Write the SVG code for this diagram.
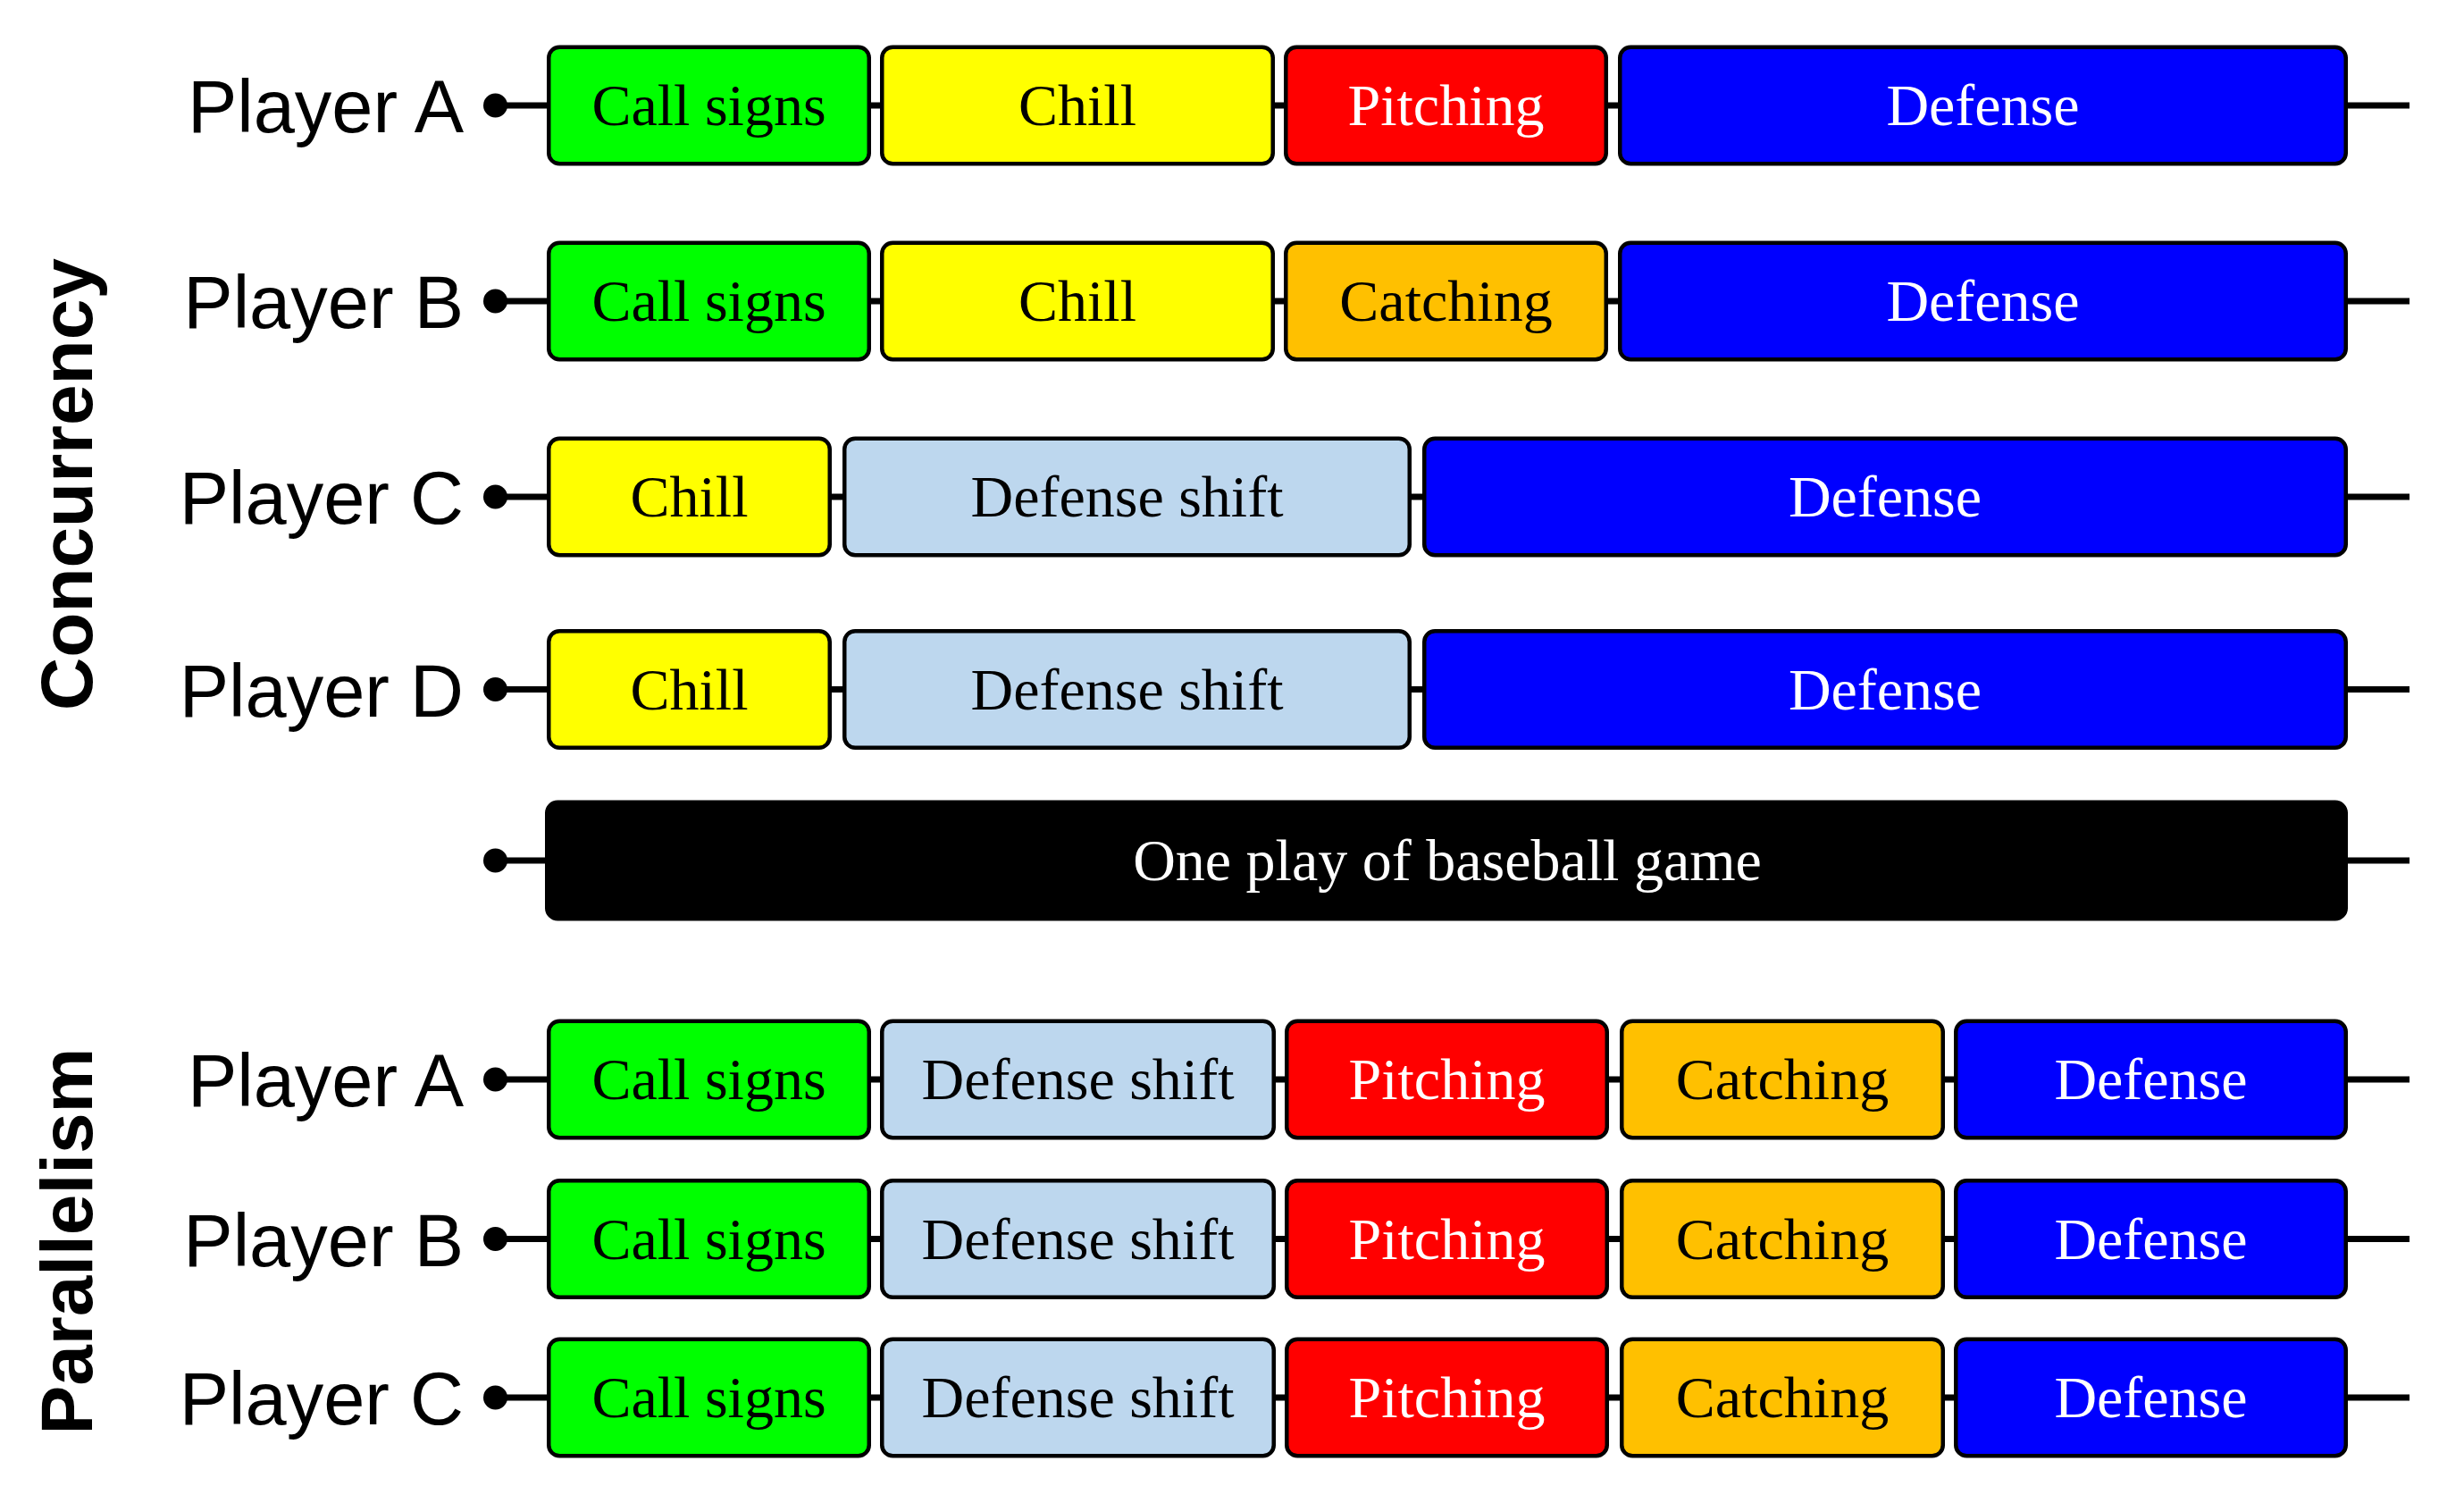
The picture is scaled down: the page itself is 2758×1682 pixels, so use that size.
<svg xmlns="http://www.w3.org/2000/svg" width="2758" height="1682" viewBox="0 0 2758 1682">
<defs>
<style>
.box{stroke:#000;stroke-width:4.5}
.g{fill:#00FF00}.y{fill:#FFFF00}.r{fill:#FF0000}.o{fill:#FFC000}.b{fill:#0000FF}.l{fill:#BDD7EE}.k{fill:#000}
.t{font-family:"Liberation Serif","Times New Roman",serif;font-size:66px;text-anchor:middle;fill:#000}
.w{fill:#fff}
.pl{font-family:"Liberation Sans",Arial,sans-serif;font-size:83px;text-anchor:end;fill:#000}
.sec{font-family:"Liberation Sans",Arial,sans-serif;font-size:82px;font-weight:bold;text-anchor:middle;fill:#000}
.ln{stroke:#000;stroke-width:7;fill:none}
</style>
</defs>
<rect width="2758" height="1682" fill="#fff"/>

<g id="labels">
<text class="sec" transform="translate(103,542) rotate(-90)">Concurrency</text>
<text class="sec" transform="translate(103,1389) rotate(-90)">Parallelism</text>
<text class="pl" x="519" y="148">Player A</text>
<text class="pl" x="519" y="367">Player B</text>
<text class="pl" x="519" y="586">Player C</text>
<text class="pl" x="519" y="801.5">Player D</text>
<text class="pl" x="519" y="1238">Player A</text>
<text class="pl" x="519" y="1416.5">Player B</text>
<text class="pl" x="519" y="1594">Player C</text>
</g>

<g id="connectors">
<line class="ln" x1="554" y1="118" x2="2697" y2="118"/>
<line class="ln" x1="554" y1="337" x2="2697" y2="337"/>
<line class="ln" x1="554" y1="556" x2="2697" y2="556"/>
<line class="ln" x1="554" y1="771.5" x2="2697" y2="771.5"/>
<line class="ln" x1="554" y1="963" x2="2697" y2="963"/>
<line class="ln" x1="554" y1="1208" x2="2697" y2="1208"/>
<line class="ln" x1="554" y1="1386.5" x2="2697" y2="1386.5"/>
<line class="ln" x1="554" y1="1564" x2="2697" y2="1564"/>
<circle cx="554.5" cy="118" r="13.5"/>
<circle cx="554.5" cy="337" r="13.5"/>
<circle cx="554.5" cy="556" r="13.5"/>
<circle cx="554.5" cy="771.5" r="13.5"/>
<circle cx="554.5" cy="963" r="13.5"/>
<circle cx="554.5" cy="1208" r="13.5"/>
<circle cx="554.5" cy="1386.5" r="13.5"/>
<circle cx="554.5" cy="1564" r="13.5"/>
</g>

<!-- Concurrency Player A -->
<g id="cA-callsigns"><rect class="box g" x="614.25" y="52.75" width="358.5" height="130.5" rx="12"/><text class="t" x="793.5" y="140">Call signs</text></g>
<g id="cA-chill"><rect class="box y" x="987.25" y="52.75" width="437.5" height="130.5" rx="12"/><text class="t" x="1206" y="140">Chill</text></g>
<g id="cA-pitching"><rect class="box r" x="1439.25" y="52.75" width="358.5" height="130.5" rx="12"/><text class="t w" x="1618.5" y="140">Pitching</text></g>
<g id="cA-defense"><rect class="box b" x="1813.25" y="52.75" width="812.5" height="130.5" rx="12"/><text class="t w" x="2219.5" y="140">Defense</text></g>

<!-- Concurrency Player B -->
<g id="cB-callsigns"><rect class="box g" x="614.25" y="271.75" width="358.5" height="130.5" rx="12"/><text class="t" x="793.5" y="359">Call signs</text></g>
<g id="cB-chill"><rect class="box y" x="987.25" y="271.75" width="437.5" height="130.5" rx="12"/><text class="t" x="1206" y="359">Chill</text></g>
<g id="cB-catching"><rect class="box o" x="1439.25" y="271.75" width="358.5" height="130.5" rx="12"/><text class="t" x="1618.5" y="359">Catching</text></g>
<g id="cB-defense"><rect class="box b" x="1813.25" y="271.75" width="812.5" height="130.5" rx="12"/><text class="t w" x="2219.5" y="359">Defense</text></g>

<!-- Concurrency Player C -->
<g id="cC-chill"><rect class="box y" x="614.25" y="490.75" width="314.5" height="130.5" rx="12"/><text class="t" x="771.5" y="578">Chill</text></g>
<g id="cC-shift"><rect class="box l" x="945.25" y="490.75" width="632.5" height="130.5" rx="12"/><text class="t" x="1261.5" y="578">Defense shift</text></g>
<g id="cC-defense"><rect class="box b" x="1594.25" y="490.75" width="1031.5" height="130.5" rx="12"/><text class="t w" x="2110" y="578">Defense</text></g>

<!-- Concurrency Player D -->
<g id="cD-chill"><rect class="box y" x="614.25" y="706.25" width="314.5" height="130.5" rx="12"/><text class="t" x="771.5" y="793.5">Chill</text></g>
<g id="cD-shift"><rect class="box l" x="945.25" y="706.25" width="632.5" height="130.5" rx="12"/><text class="t" x="1261.5" y="793.5">Defense shift</text></g>
<g id="cD-defense"><rect class="box b" x="1594.25" y="706.25" width="1031.5" height="130.5" rx="12"/><text class="t w" x="2110" y="793.5">Defense</text></g>

<!-- One play bar -->
<g id="one-play"><rect class="box k" x="612.25" y="897.75" width="2013.5" height="130.5" rx="12"/><text class="t w" x="1620" y="985">One play of baseball game</text></g>

<!-- Parallelism Player A -->
<g id="pA-callsigns"><rect class="box g" x="614.25" y="1142.75" width="358.5" height="130.5" rx="12"/><text class="t" x="793.5" y="1230">Call signs</text></g>
<g id="pA-shift"><rect class="box l" x="987.25" y="1142.75" width="438.5" height="130.5" rx="12"/><text class="t" x="1206.5" y="1230">Defense shift</text></g>
<g id="pA-pitching"><rect class="box r" x="1440.25" y="1142.75" width="358.5" height="130.5" rx="12"/><text class="t w" x="1619.5" y="1230">Pitching</text></g>
<g id="pA-catching"><rect class="box o" x="1815.25" y="1142.75" width="359.5" height="130.5" rx="12"/><text class="t" x="1995" y="1230">Catching</text></g>
<g id="pA-defense"><rect class="box b" x="2189.25" y="1142.75" width="436.5" height="130.5" rx="12"/><text class="t w" x="2407.5" y="1230">Defense</text></g>

<!-- Parallelism Player B -->
<g id="pB-callsigns"><rect class="box g" x="614.25" y="1321.25" width="358.5" height="130.5" rx="12"/><text class="t" x="793.5" y="1408.5">Call signs</text></g>
<g id="pB-shift"><rect class="box l" x="987.25" y="1321.25" width="438.5" height="130.5" rx="12"/><text class="t" x="1206.5" y="1408.5">Defense shift</text></g>
<g id="pB-pitching"><rect class="box r" x="1440.25" y="1321.25" width="358.5" height="130.5" rx="12"/><text class="t w" x="1619.5" y="1408.5">Pitching</text></g>
<g id="pB-catching"><rect class="box o" x="1815.25" y="1321.25" width="359.5" height="130.5" rx="12"/><text class="t" x="1995" y="1408.5">Catching</text></g>
<g id="pB-defense"><rect class="box b" x="2189.25" y="1321.25" width="436.5" height="130.5" rx="12"/><text class="t w" x="2407.5" y="1408.5">Defense</text></g>

<!-- Parallelism Player C -->
<g id="pC-callsigns"><rect class="box g" x="614.25" y="1498.75" width="358.5" height="130.5" rx="12"/><text class="t" x="793.5" y="1586">Call signs</text></g>
<g id="pC-shift"><rect class="box l" x="987.25" y="1498.75" width="438.5" height="130.5" rx="12"/><text class="t" x="1206.5" y="1586">Defense shift</text></g>
<g id="pC-pitching"><rect class="box r" x="1440.25" y="1498.75" width="358.5" height="130.5" rx="12"/><text class="t w" x="1619.5" y="1586">Pitching</text></g>
<g id="pC-catching"><rect class="box o" x="1815.25" y="1498.75" width="359.5" height="130.5" rx="12"/><text class="t" x="1995" y="1586">Catching</text></g>
<g id="pC-defense"><rect class="box b" x="2189.25" y="1498.75" width="436.5" height="130.5" rx="12"/><text class="t w" x="2407.5" y="1586">Defense</text></g>
</svg>
